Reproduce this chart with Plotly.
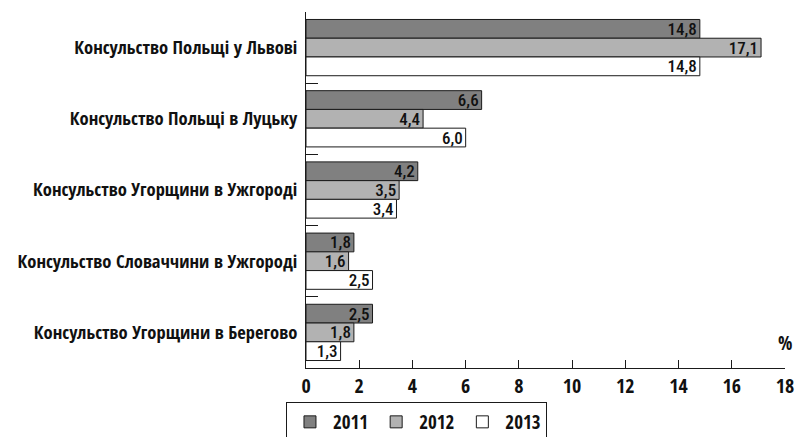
import plotly.graph_objects as go

categories = [
    "Консульство Польщі у Львові",
    "Консульство Польщі в Луцьку",
    "Консульство Угорщини в Ужгороді",
    "Консульство Словаччини в Ужгороді",
    "Консульство Угорщини в Берегово",
]
years = ["2011", "2012", "2013"]
values_2011 = [14.8, 6.6, 4.2, 1.8, 2.5]
values_2012 = [17.1, 4.4, 3.5, 1.6, 1.8]
values_2013 = [14.8, 6.0, 3.4, 2.5, 1.3]
x_ticks = [0, 2, 4, 6, 8, 10, 12, 14, 16, 18]

series = [values_2011, values_2012, values_2013]
colors = ["#808080", "#b2b2b2", "#ffffff"]

FONT = "Open Sans Condensed, Roboto Condensed, DejaVu Sans Condensed, sans-serif"
LABEL_FONT = "Roboto Condensed, Open Sans Condensed, DejaVu Sans Condensed, sans-serif"
INK = "#111111"

fig = go.Figure()
for name, vals, col in zip(years, series, colors):
    fig.add_trace(go.Bar(
        y=categories, x=vals, name=name, orientation="h",
        marker=dict(color=col, line=dict(color="#1a1a1a", width=1)),
        text=vals, texttemplate="%{x:.1f}",
        textposition="inside", insidetextanchor="end",
        textangle=0, constraintext="none",
        textfont=dict(family=LABEL_FONT, size=17, color=INK, weight=500),
        cliponaxis=False,
    ))

fig.update_layout(
    width=798, height=437,
    margin=dict(l=306, r=13, t=12, b=69),
    paper_bgcolor="white", plot_bgcolor="white",
    barmode="group", bargap=0.21, bargroupgap=0,
    separators=", ",
    font=dict(family=FONT, size=18, color=INK, weight=700),
    showlegend=True,
    legend=dict(
        orientation="h", xref="paper", x=-0.0418, xanchor="left",
        yref="container", y=1 - 402 / 437, yanchor="top",
        bordercolor="#1a1a1a", borderwidth=1, bgcolor="white",
        font=dict(family=FONT, size=19, color=INK, weight=700),
        traceorder="normal", itemwidth=36,
    ),
    xaxis=dict(
        range=[0, 18], tickvals=x_ticks, ticktext=[str(t) for t in x_ticks],
        ticks="inside", ticklen=8, tickcolor="#1a1a1a", tickwidth=1,
        showline=True, linecolor="#1a1a1a", linewidth=1,
        showgrid=False, zeroline=False, automargin=False,
        tickfont=dict(family=FONT, size=20, color=INK, weight=700),
    ),
    yaxis=dict(
        categoryorder="array", categoryarray=categories,
        range=[4.5, -0.5],
        ticks="inside", tickson="boundaries", ticklen=12,
        tickcolor="#1a1a1a", tickwidth=1,
        showline=True, linecolor="#1a1a1a", linewidth=1,
        showgrid=False, zeroline=False, automargin=False,
        tickfont=dict(family=FONT, size=18.5, color=INK, weight=700),
        ticklabelstandoff=4,
    ),
    annotations=[dict(
        text="%", xref="x", x=18, yref="paper", y=0,
        xanchor="center", yanchor="bottom", yshift=10, showarrow=False,
        font=dict(family=FONT, size=19, color=INK, weight=700),
    )],
)

fig.write_html(
    "out.html",
    config={"displayModeBar": False},
    post_script="document.body.style.margin='0';document.body.style.overflow='hidden';",
)
